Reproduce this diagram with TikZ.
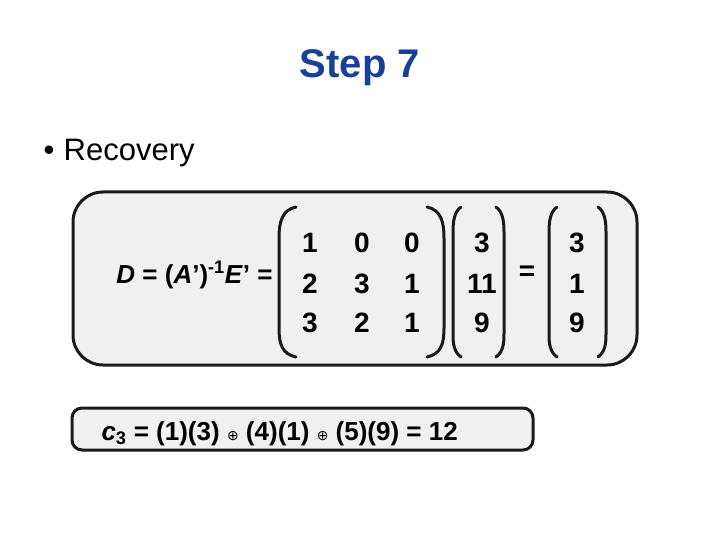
\documentclass[tikz,border=0pt]{standalone}
\usepackage{fontspec}
\setmainfont{Liberation Sans}
\newfontfamily\djv{DejaVu Sans}
\definecolor{titleblue}{HTML}{1A3F96}
\definecolor{boxfill}{HTML}{F0F0F0}
\definecolor{boxline}{HTML}{1A1A1A}
\begin{document}
\begin{tikzpicture}[x=1pt,y=-1pt,
  num/.style={font=\fontsize{28}{30}\selectfont\bfseries,anchor=base},
  paren/.style={line width=3pt,line cap=round,boxline},
  panel/.style={draw=boxline,line width=3pt,fill=boxfill}]
\useasboundingbox (0,0) rectangle (720,540);
\node[font=\fontsize{40}{42}\selectfont\bfseries,text=titleblue] (title) at (360,68) {Step 7};
\node[font=\fontsize{31}{33}\selectfont,anchor=base west] (bul) at (40,161) {\textbullet\hspace{0.3em}Recovery};
\draw[panel,rounded corners=30pt] (73,192) rectangle (637,365);
\draw[panel,rounded corners=10pt] (72,408) rectangle (533,450);
\node[num,anchor=base east,font=\fontsize{26}{28}\selectfont\bfseries] (lhs) at (276,283) {\textit{D} = (\textit{A}’)\textsuperscript{-1}\textit{E}’ =};
\node[num] (m11) at (310,252) {1};\node[num] (m12) at (362,252) {0};\node[num] (m13) at (412,252) {0};
\node[num] (m21) at (310,293) {2};\node[num] (m22) at (362,293) {3};\node[num] (m23) at (412,293) {1};
\node[num] (m31) at (310,332) {3};\node[num] (m32) at (362,332) {2};\node[num] (m33) at (412,332) {1};
\node[num] (v1) at (482,252) {3};\node[num] (v2) at (482,293) {11};\node[num] (v3) at (482,332) {9};
\node[num] (eq) at (527,280) {=};
\node[num] (r1) at (577,252) {3};\node[num] (r2) at (577,293) {1};\node[num] (r3) at (577,332) {9};
\draw[paren] (296,207) .. controls (282,210) and (279,222) .. (279,238) -- (279,328) .. controls (279,344) and (282,354) .. (296,357);
\draw[paren] (427,207) .. controls (441,210) and (444,222) .. (444,238) -- (444,328) .. controls (444,344) and (441,354) .. (427,357);
\draw[paren] (461,207) .. controls (454,212) and (453,222) .. (453,232) -- (453,334) .. controls (453,344) and (454,352) .. (461,357);
\draw[paren] (496,207) .. controls (503,212) and (504,222) .. (504,232) -- (504,334) .. controls (504,344) and (503,352) .. (496,357);
\draw[paren] (557,207) .. controls (550,212) and (549,222) .. (549,232) -- (549,334) .. controls (549,344) and (550,352) .. (557,357);
\draw[paren] (598,207) .. controls (605,212) and (606,222) .. (606,232) -- (606,334) .. controls (606,344) and (605,352) .. (598,357);
\node[num,anchor=base west,font=\fontsize{26}{28}\selectfont\bfseries] (c3) at (98,440) {\textit{c}\textsubscript{3} = (1)(3) {\djv\mdseries\fontsize{14}{14}\selectfont ⊕} (4)(1) {\djv\mdseries\fontsize{14}{14}\selectfont ⊕} (5)(9) = 12};
\end{tikzpicture}
\end{document}
